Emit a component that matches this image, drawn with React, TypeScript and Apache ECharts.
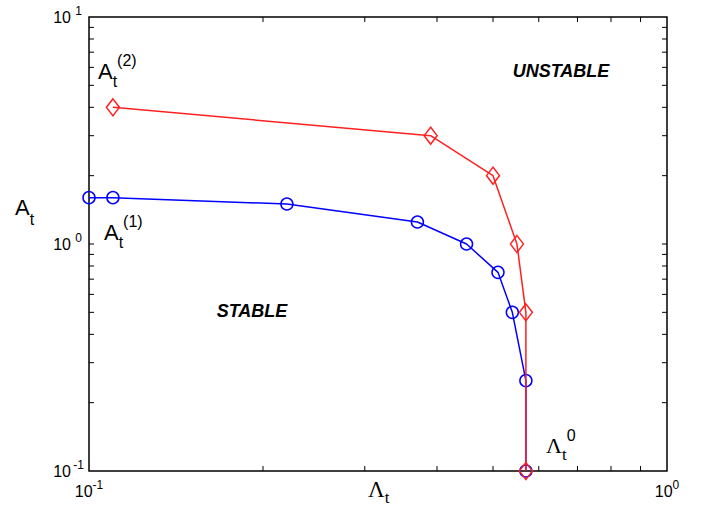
import { useEffect, useRef } from "react";
import * as echarts from "echarts";

// Stability boundary: threshold amplitude A_t against Λ_t
const stableLambda = [0.1, 0.11, 0.22, 0.37, 0.45, 0.51, 0.54, 0.57, 0.57];
const stableA = [1.6, 1.6, 1.5, 1.25, 1.0, 0.75, 0.5, 0.25, 0.1];
const unstableLambda = [0.11, 0.39, 0.5, 0.55, 0.57, 0.57];
const unstableA = [4, 3, 2, 1, 0.5, 0.1];

// Axis ranges and log-decade tick values
const xRange = [0.1, 1];
const yRange = [0.1, 10];
const xMinorTicks = [0.2, 0.3, 0.4, 0.5, 0.6, 0.7, 0.8, 0.9];
const yInnerTicks = [0.2, 0.3, 0.4, 0.5, 0.6, 0.7, 0.8, 0.9, 1, 2, 3, 4, 5, 6, 7, 8, 9];

const SANS = "'Liberation Sans', Arial, Helvetica, sans-serif";
const SERIF = "'Liberation Serif', 'Times New Roman', serif";
const BLUE = "#0000ff";
const RED = "#ff2020";

const pow10Label = (v: number) => {
  const e = Math.round(Math.log10(v));
  return `{b|10}{e|${e}}`;
};

export default function App() {
  const ref = useRef<HTMLDivElement>(null);

  useEffect(() => {
    document.body.style.margin = "0";
    if (!ref.current) return;
    const chart = echarts.init(ref.current, undefined, { renderer: "svg" });

    // tick marks on all four frame sides: [x, y, side]
    const tickData: number[][] = [];
    xMinorTicks.forEach((v) => {
      tickData.push([v, yRange[0], 0]);
      tickData.push([v, yRange[1], 1]);
    });
    yInnerTicks.forEach((v) => {
      tickData.push([xRange[0], v, 2]);
      tickData.push([xRange[1], v, 3]);
    });

    const TICK = 5;

    chart.setOption({
      animation: false,
      backgroundColor: "#ffffff",
      grid: {
        left: 89,
        top: 17,
        right: 40,
        bottom: 35,
        show: true,
        borderColor: "#000",
        borderWidth: 1.5,
        backgroundColor: "transparent",
      },
      xAxis: {
        type: "log",
        logBase: 10,
        min: xRange[0],
        max: xRange[1],
        axisLine: { show: false },
        axisTick: { show: false },
        splitLine: { show: false },
        axisLabel: {
          margin: 8,
          formatter: pow10Label,
          rich: {
            b: { fontFamily: SANS, fontSize: 16, color: "#000", lineHeight: 24 },
            e: { fontFamily: SANS, fontSize: 12, color: "#000", lineHeight: 9, verticalAlign: "top" },
          },
        },
      },
      yAxis: {
        type: "log",
        logBase: 10,
        min: yRange[0],
        max: yRange[1],
        axisLine: { show: false },
        axisTick: { show: false },
        splitLine: { show: false },
        axisLabel: {
          margin: 3,
          formatter: pow10Label,
          rich: {
            b: { fontFamily: SANS, fontSize: 16, color: "#000", lineHeight: 24 },
            e: {
              fontFamily: SANS,
              fontSize: 12,
              color: "#000",
              lineHeight: 9,
              verticalAlign: "top",
              width: 15,
              align: "left",
            },
          },
        },
      },
      series: [
        {
          type: "line",
          name: "A_t(1)",
          data: stableLambda.map((x, i) => [x, stableA[i]]),
          symbol: "circle",
          symbolSize: 12,
          clip: false,
          itemStyle: { color: "rgba(0,0,0,0)", borderColor: BLUE, borderWidth: 1.5 },
          lineStyle: { color: BLUE, width: 1.5 },
          emphasis: { disabled: true },
          z: 3,
        },
        {
          type: "line",
          name: "A_t(2)",
          data: unstableLambda.map((x, i) => [x, unstableA[i]]),
          symbol: "diamond",
          symbolSize: [13, 17],
          clip: false,
          itemStyle: { color: "rgba(0,0,0,0)", borderColor: RED, borderWidth: 1.5 },
          lineStyle: { color: RED, width: 1.5 },
          emphasis: { disabled: true },
          z: 4,
        },
        {
          type: "custom",
          silent: true,
          clip: false,
          z: 5,
          data: tickData,
          encode: { x: 0, y: 1 },
          renderItem: (_params: any, api: any) => {
            const p = api.coord([api.value(0), api.value(1)]);
            const side = api.value(2);
            let dx = 0;
            let dy = 0;
            if (side === 0) dy = -TICK;
            else if (side === 1) dy = TICK;
            else if (side === 2) dx = TICK;
            else dx = -TICK;
            return {
              type: "line",
              shape: { x1: p[0], y1: p[1], x2: p[0] + dx, y2: p[1] + dy },
              style: { stroke: "#000", lineWidth: 1 },
            };
          },
        },
      ],
      graphic: [
        // y-axis title A_t
        {
          type: "text",
          x: 15,
          y: 207,
          style: {
            text: "{a|A}{t|t}",
            align: "left",
            verticalAlign: "middle",
            rich: {
              a: { fontFamily: SANS, fontSize: 22, lineHeight: 40, fill: "#000" },
              t: { fontFamily: SANS, fontSize: 16, lineHeight: 12, verticalAlign: "bottom", fill: "#000" },
            },
          },
        },
        // x-axis title Λ_t
        {
          type: "text",
          x: 368,
          y: 489,
          style: {
            text: "{a|Λ}{t|t}",
            align: "left",
            verticalAlign: "middle",
            rich: {
              a: { fontFamily: SERIF, fontSize: 23, lineHeight: 34, fill: "#000" },
              t: { fontFamily: SERIF, fontSize: 17, lineHeight: 12, verticalAlign: "bottom", fill: "#000" },
            },
          },
        },
        // curve label A_t^(2)
        {
          type: "text",
          x: 98,
          y: 71,
          style: {
            text: "{a|A}{t|t}{s|(2)}",
            align: "left",
            verticalAlign: "middle",
            rich: {
              a: { fontFamily: SANS, fontSize: 22, lineHeight: 37, fill: "#000" },
              t: { fontFamily: SANS, fontSize: 16, lineHeight: 12, verticalAlign: "bottom", fill: "#000" },
              s: { fontFamily: SANS, fontSize: 16, lineHeight: 21, verticalAlign: "top", fill: "#000" },
            },
          },
        },
        // curve label A_t^(1)
        {
          type: "text",
          x: 104,
          y: 232,
          style: {
            text: "{a|A}{t|t}{s|(1)}",
            align: "left",
            verticalAlign: "middle",
            rich: {
              a: { fontFamily: SANS, fontSize: 22, lineHeight: 37, fill: "#000" },
              t: { fontFamily: SANS, fontSize: 16, lineHeight: 12, verticalAlign: "bottom", fill: "#000" },
              s: { fontFamily: SANS, fontSize: 16, lineHeight: 21, verticalAlign: "top", fill: "#000" },
            },
          },
        },
        // threshold Λ_t^0
        {
          type: "text",
          x: 546,
          y: 445,
          style: {
            text: "{a|Λ}{t|t}{s|0}",
            align: "left",
            verticalAlign: "middle",
            rich: {
              a: { fontFamily: SERIF, fontSize: 22, lineHeight: 36, fill: "#000" },
              t: { fontFamily: SERIF, fontSize: 17, lineHeight: 12, verticalAlign: "bottom", fill: "#000" },
              s: { fontFamily: SANS, fontSize: 16, lineHeight: 18, verticalAlign: "top", fill: "#000" },
            },
          },
        },
        // region labels
        {
          type: "text",
          x: 561,
          y: 71,
          style: {
            text: "UNSTABLE",
            align: "center",
            verticalAlign: "middle",
            font: `italic bold 18px ${SANS}`,
            fill: "#000",
          },
        },
        {
          type: "text",
          x: 252,
          y: 311,
          style: {
            text: "STABLE",
            align: "center",
            verticalAlign: "middle",
            font: `italic bold 18px ${SANS}`,
            fill: "#000",
          },
        },
      ],
    });

    return () => chart.dispose();
  }, []);

  return <div ref={ref} style={{ width: 707, height: 506 }} />;
}
